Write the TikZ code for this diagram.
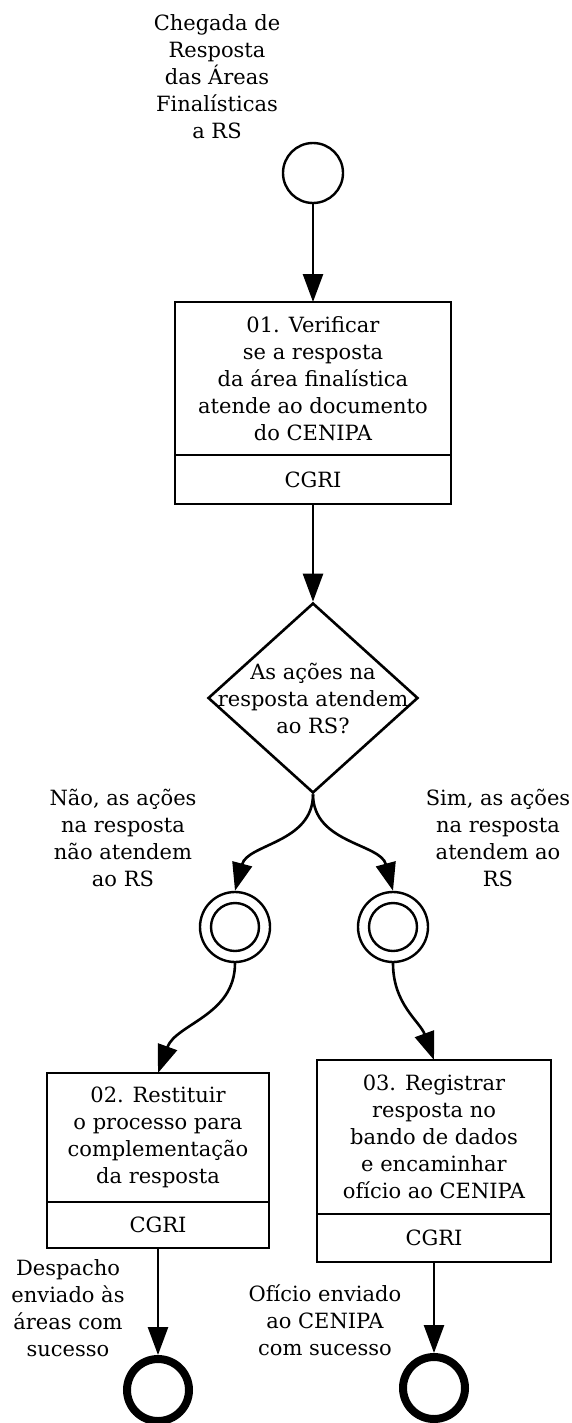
\documentclass[tikz,border=0pt]{standalone}
\usepackage{fontspec}
\setmainfont{DejaVu Serif}
\usetikzlibrary{positioning,arrows.meta,shapes.geometric}

\tikzset{
  txt/.style={font=\fontsize{10.5}{13.5}\selectfont, align=center, inner sep=0pt},
  task/.style={draw, line width=1.3pt, txt, outer sep=0pt},
  role/.style={draw, line width=1.3pt, txt, outer sep=0pt},
  startevt/.style={circle, draw, line width=1.2pt, minimum size=30pt, inner sep=0pt},
  midevt/.style={circle, draw, line width=1.2pt, minimum size=35pt, inner sep=0pt,
    path picture={\draw[line width=1.2pt] (path picture bounding box.center) circle (12pt);}},
  endevt/.style={circle, draw, line width=4pt, minimum size=31pt, inner sep=0pt},
  gateway/.style={diamond, draw, line width=1.3pt, minimum width=105pt,
    minimum height=95pt, inner sep=0pt},
  flow/.style={-{Triangle[length=14pt,width=10pt]}, line width=1.3pt},
}

\begin{document}
\begin{tikzpicture}[x=0.5pt,y=-0.5pt]
  \useasboundingbox (0,0) rectangle (572,1423);

  % start
  \node[txt] (startlbl) at (217,77)
    {Chegada de\\Resposta\\das Áreas\\Finalísticas\\a RS};
  \node[startevt] (start) at (313,173) {};

  % 01
  \node[task, minimum width=138pt, minimum height=76.5pt] (t1) at (313,378.5)
    {01. Verificar\\se a resposta\\da área finalística\\atende ao documento\\do CENIPA};
  \node[role, minimum width=138pt, minimum height=24.5pt, below=0pt of t1] (r1) {CGRI};

  % gateway
  \node[gateway] (gw) at (313,698) {};
  \node[txt] (gwlbl) at (gw.center) {As ações na\\resposta atendem\\ao RS?};

  \node[txt] (nolbl) at (123,838) {Não, as ações\\na resposta\\não atendem\\ao RS};
  \node[txt] (yeslbl) at (498,838) {Sim, as ações\\na resposta\\atendem ao\\RS};

  \node[midevt] (mid1) at (235,927) {};
  \node[midevt] (mid2) at (393,927) {};

  % 02 and 03
  \node[task, minimum width=111pt, minimum height=64.5pt] (t2) at (158,1137.5)
    {02. Restituir\\o processo para\\complementação\\da resposta};
  \node[role, minimum width=111pt, minimum height=23pt, below=0pt of t2] (r2) {CGRI};

  \node[task, minimum width=117pt, minimum height=77pt] (t3) at (434,1137)
    {03. Registrar\\resposta no\\bando de dados\\e encaminhar\\ofício ao CENIPA};
  \node[role, minimum width=117pt, minimum height=24pt, below=0pt of t3] (r3) {CGRI};

  % ends
  \node[txt] (end1lbl) at (68,1308) {Despacho\\enviado às\\áreas com\\sucesso};
  \node[txt] (end2lbl) at (325,1320) {Ofício enviado\\ao CENIPA\\com sucesso};
  \node[endevt] (end1) at (158,1390) {};
  \node[endevt] (end2) at (434,1388) {};

  % flows
  \draw[flow] (start) -- (t1);
  \draw[flow] (r1) -- (gw);
  \draw[flow] (gw.south) to[out=-90,in=75] (mid1.north);
  \draw[flow] (gw.south) to[out=-90,in=105] (mid2.north);
  \draw[flow] (mid1.south) to[out=-90,in=70] (t2.north);
  \draw[flow] (mid2.south) to[out=-90,in=110] (t3.north);
  \draw[flow] (r2) -- (end1);
  \draw[flow] (r3) -- (end2);
\end{tikzpicture}
\end{document}
